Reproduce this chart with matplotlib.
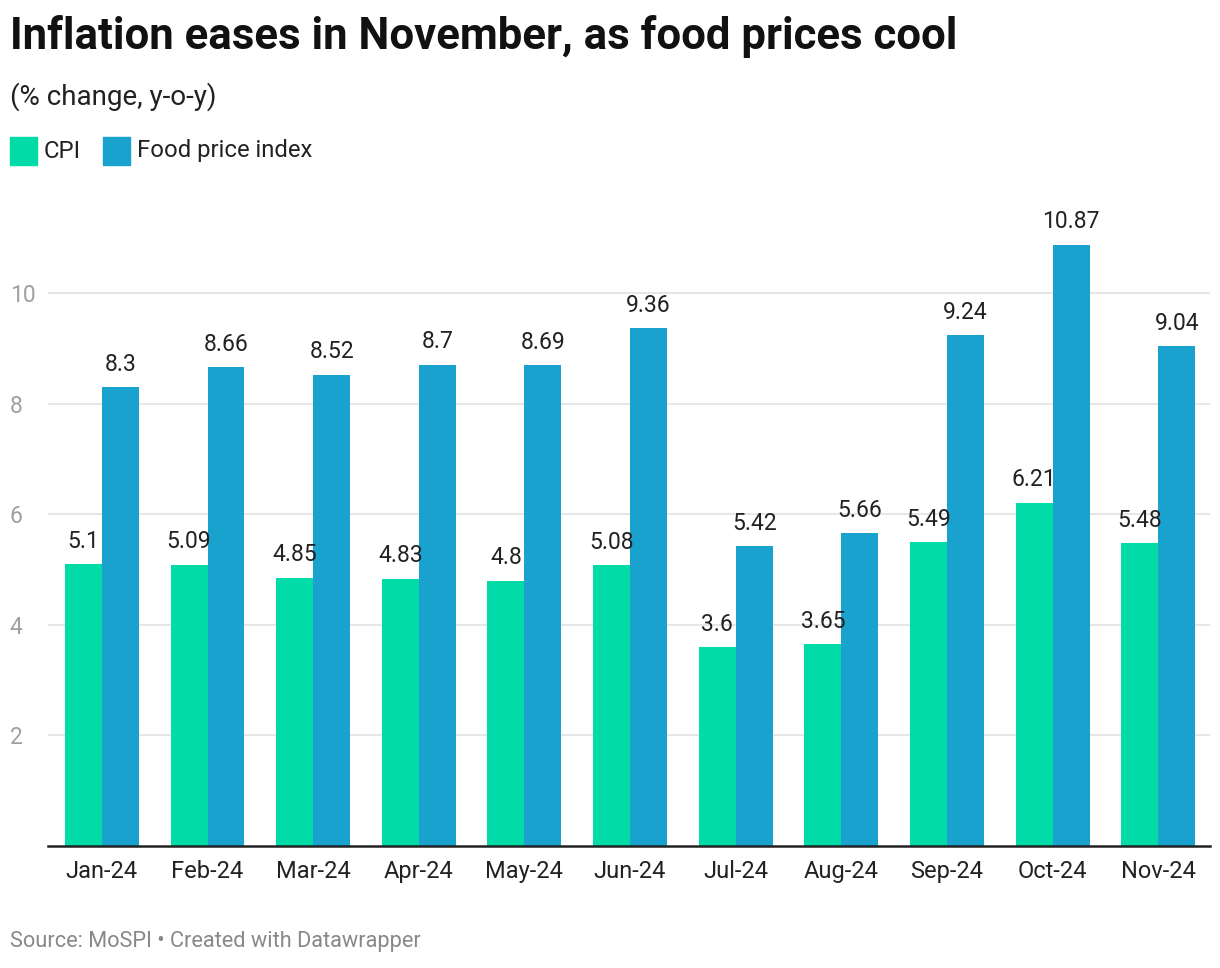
import matplotlib
matplotlib.use("Agg")
import matplotlib.pyplot as plt
import numpy as np

months = ["Jan-24", "Feb-24", "Mar-24", "Apr-24", "May-24", "Jun-24",
          "Jul-24", "Aug-24", "Sep-24", "Oct-24", "Nov-24"]
cpi = [5.1, 5.09, 4.85, 4.83, 4.8, 5.08, 3.6, 3.65, 5.49, 6.21, 5.48]
food = [8.3, 8.66, 8.52, 8.7, 8.69, 9.36, 5.42, 5.66, 9.24, 10.87, 9.04]
cpi_labels = ["5.1", "5.09", "4.85", "4.83", "4.8", "5.08", "3.6", "3.65", "5.49", "6.21", "5.48"]
food_labels = ["8.3", "8.66", "8.52", "8.7", "8.69", "9.36", "5.42", "5.66", "9.24", "10.87", "9.04"]
yticks = [2, 4, 6, 8, 10]

CPI_C = "#00dba8"
FOOD_C = "#19a2cd"

plt.rcParams['font.family'] = ['Roboto', 'DejaVu Sans']

W, H = 1220, 968
fig = plt.figure(figsize=(W / 100, H / 100), dpi=100)

ymax = 12
y0_px, y10_px = 846, 293
top_px = y0_px - (y0_px - y10_px) / 10 * ymax
ax = fig.add_axes([48 / W, (H - y0_px) / H, (1210 - 48) / W, (y0_px - top_px) / H])

x = np.arange(len(months))
bw = 0.35
ax.bar(x - bw / 2, cpi, width=bw, color=CPI_C, zorder=2)
ax.bar(x + bw / 2, food, width=bw, color=FOOD_C, zorder=2)

for i in range(len(months)):
    ax.annotate(cpi_labels[i], (x[i] - bw / 2, cpi[i]), xytext=(0, 16.5), textcoords="offset points",
                ha="center", va="center", fontsize=16.5, color="#222222")
    ax.annotate(food_labels[i], (x[i] + bw / 2, food[i]), xytext=(0, 16.5), textcoords="offset points",
                ha="center", va="center", fontsize=16.5, color="#222222")

ax.set_xlim(-0.51, 10.49)
ax.set_ylim(0, ymax)
ax.set_yticks(yticks)
ax.set_yticklabels([str(t) for t in yticks])
ax.set_xticks(x)
ax.set_xticklabels(months)
ax.tick_params(axis='x', length=0, pad=10, labelsize=17, labelcolor="#222222")
ax.tick_params(axis='y', length=0, pad=27.5, labelsize=16.5, labelcolor="#a0a0a0")
for lab in ax.get_yticklabels():
    lab.set_ha('left')
ax.grid(axis='y', color="#e2e2e2", linewidth=1.2, zorder=0)
ax.set_axisbelow(True)
for s in ["top", "right", "left"]:
    ax.spines[s].set_visible(False)
ax.spines["bottom"].set_color("#222222")
ax.spines["bottom"].set_linewidth(1.8)
ax.spines["bottom"].set_zorder(3)

# Title, subtitle
fig.text(10 / W, 1 - 36 / H, "Inflation eases in November, as food prices cool",
         fontsize=31.5, fontweight="bold", color="#111111", va="center", ha="left")
fig.text(10 / W, 1 - 97 / H, "(% change, y-o-y)", fontsize=20, color="#222222", va="center", ha="left")

# Legend
from matplotlib.patches import Rectangle
def legend_item(x0, color, label):
    fig.patches.append(Rectangle((x0 / W, 1 - 165 / H), 27 / W, 28 / H, transform=fig.transFigure,
                                 color=color, figure=fig))
    fig.text((x0 + 34) / W, 1 - 151 / H, label, fontsize=17.2, color="#222222", va="center", ha="left")
legend_item(10, CPI_C, "CPI")
legend_item(103, FOOD_C, "Food price index")

fig.text(10 / W, 1 - 942 / H, "Source: MoSPI \u2022 Created with Datawrapper", fontsize=15.7,
         color="#888888", va="center", ha="left")

fig.savefig("out.png", dpi=100)
